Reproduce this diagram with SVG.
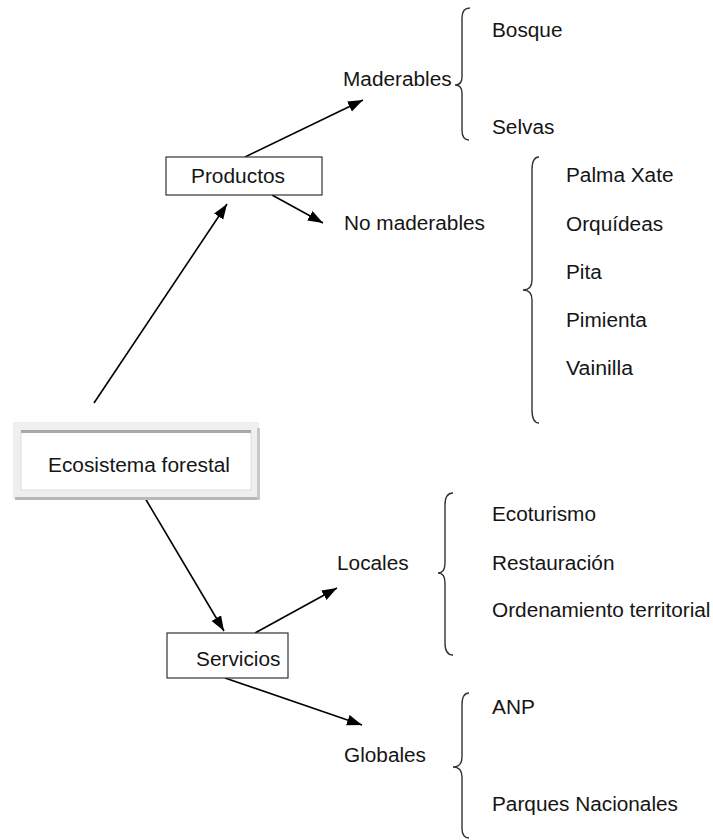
<svg xmlns="http://www.w3.org/2000/svg" width="713" height="840" viewBox="0 0 713 840">
<defs>
<marker id="ah" markerUnits="userSpaceOnUse" markerWidth="16" markerHeight="12" refX="15" refY="5.5" orient="auto">
<path d="M0,0 L15,5.5 L0,11 z" fill="#000"/>
</marker>
<style>
text{font-family:"Liberation Sans",Arial,sans-serif;font-size:20px;fill:#151515}
.box{fill:#fff;stroke:#333;stroke-width:1.2}
.conn{stroke:#000;stroke-width:1.6;fill:none;marker-end:url(#ah)}
.brace{fill:none;stroke:#333;stroke-width:1.4}
</style>
</defs>
<rect width="713" height="840" fill="#fff"/>
<g id="connectors">
<line class="conn" x1="94" y1="403" x2="227" y2="204"/>
<line class="conn" x1="245" y1="157" x2="363" y2="100"/>
<line class="conn" x1="272" y1="195" x2="323" y2="223"/>
<line class="conn" x1="145" y1="498" x2="224" y2="631"/>
<line class="conn" x1="255" y1="633" x2="337" y2="588"/>
<line class="conn" x1="225" y1="678" x2="362" y2="725"/>
</g>
<g id="ecosistema">
<rect x="13" y="422" width="246" height="77" fill="#efefef"/>
<rect x="15" y="497" width="244" height="3" fill="#b8b8b8"/>
<rect x="257" y="428" width="3" height="72" fill="#c8c8c8"/>
<rect x="21" y="431" width="230" height="59" fill="#fff" stroke="#dcdcdc" stroke-width="1"/>
<rect x="21" y="430" width="230" height="3" fill="#a8a8a8"/>
<text x="48" y="472" textLength="182" lengthAdjust="spacingAndGlyphs">Ecosistema forestal</text>
</g>
<g id="productos">
<rect class="box" x="166" y="157" width="156" height="38"/>
<text x="191" y="183" textLength="94" lengthAdjust="spacingAndGlyphs">Productos</text>
</g>
<g id="servicios">
<rect class="box" x="167" y="633" width="121" height="45"/>
<text x="196" y="666" textLength="84.5" lengthAdjust="spacingAndGlyphs">Servicios</text>
</g>
<g id="maderables">
<text x="343" y="86" textLength="108.7" lengthAdjust="spacingAndGlyphs">Maderables</text>
<path class="brace" d="M470,8 Q462,8 462,18 L462,77 Q462,85 455,85 Q462,85 462,93 L462,130 Q462,140 469,140"/>
<text x="492" y="37" textLength="70.5" lengthAdjust="spacingAndGlyphs">Bosque</text>
<text x="492" y="134" textLength="62.4" lengthAdjust="spacingAndGlyphs">Selvas</text>
</g>
<g id="nomaderables">
<text x="344" y="230" textLength="141" lengthAdjust="spacingAndGlyphs">No maderables</text>
<path class="brace" d="M539,157 Q532,157 532,170 L532,280 Q532,290 523,290 Q532,290 532,300 L532,410 Q532,423 539,423"/>
<text x="566" y="182" textLength="107.5" lengthAdjust="spacingAndGlyphs">Palma Xate</text>
<text x="566" y="231" textLength="97.1" lengthAdjust="spacingAndGlyphs">Orquídeas</text>
<text x="566" y="279" textLength="35.8" lengthAdjust="spacingAndGlyphs">Pita</text>
<text x="566" y="327" textLength="80.9" lengthAdjust="spacingAndGlyphs">Pimienta</text>
<text x="566" y="375" textLength="67" lengthAdjust="spacingAndGlyphs">Vainilla</text>
</g>
<g id="locales">
<text x="337" y="570" textLength="71.7" lengthAdjust="spacingAndGlyphs">Locales</text>
<path class="brace" d="M453,493 Q445,493 445,505 L445,563 Q445,573 438,573 Q445,573 445,583 L445,643 Q445,655 453,655"/>
<text x="492" y="521" textLength="104" lengthAdjust="spacingAndGlyphs">Ecoturismo</text>
<text x="492" y="570" textLength="122.5" lengthAdjust="spacingAndGlyphs">Restauración</text>
<text x="492" y="617" textLength="218.5" lengthAdjust="spacingAndGlyphs">Ordenamiento territorial</text>
</g>
<g id="globales">
<text x="344" y="762" textLength="82" lengthAdjust="spacingAndGlyphs">Globales</text>
<path class="brace" d="M469,693 Q462,693 462,705 L462,757 Q462,767 453,767 Q462,767 462,777 L462,828 Q462,838 469,838"/>
<text x="492" y="714" textLength="42.8" lengthAdjust="spacingAndGlyphs">ANP</text>
<text x="492" y="811" textLength="186" lengthAdjust="spacingAndGlyphs">Parques Nacionales</text>
</g>
</svg>
